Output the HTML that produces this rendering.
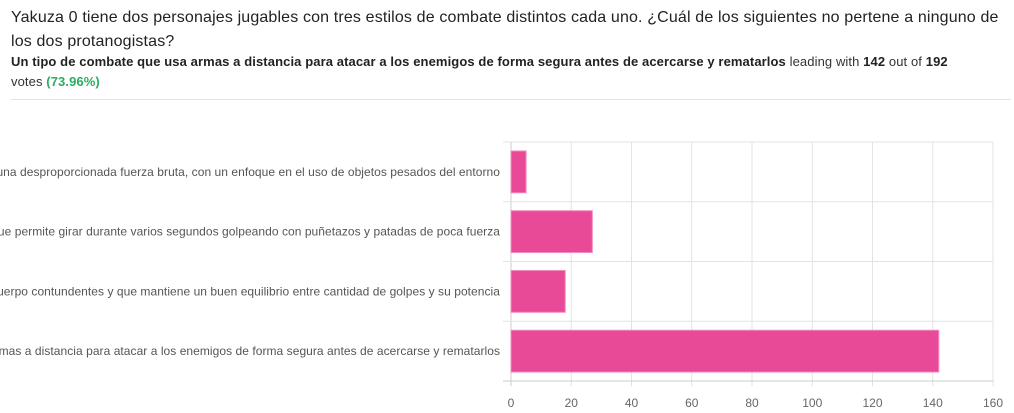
<!DOCTYPE html>
<html><head><meta charset="utf-8"><style>
body{margin:0;width:1014px;height:413px;overflow:hidden;background:#fff;font-family:"Liberation Sans",Arial,sans-serif;position:relative}
#title{position:absolute;left:11px;top:6px;width:990px;font-size:16px;line-height:24px;color:#222;letter-spacing:0.15px}
#sub{position:absolute;left:11px;top:52px;width:972px;font-size:13px;line-height:20px;color:#333;letter-spacing:0.1px}
#sep{position:absolute;left:11px;top:99px;width:1000px;height:1px;background:#e3e3e3}
svg{position:absolute;left:0;top:0}
</style></head><body>
<div id="title">Yakuza 0 tiene dos personajes jugables con tres estilos de combate distintos cada uno. ¿Cuál de los siguientes no pertene a ninguno de los dos protanogistas?</div>
<div id="sub"><b style="color:#222">Un tipo de combate que usa armas a distancia para atacar a los enemigos de forma segura antes de acercarse y rematarlos</b> leading with <b style="color:#222">142</b> out of <b style="color:#222">192</b> votes <b style="color:#27ae60">(73.96%)</b></div>
<div id="sep"></div>
<svg id="chart" width="1014" height="413"></svg>
<script>
const categories=["Un estilo con una desproporcionada fuerza bruta, con un enfoque en el uso de objetos pesados del entorno","Un estilo de combate que permite girar durante varios segundos golpeando con puñetazos y patadas de poca fuerza","Un estilo con golpes de cuerpo contundentes y que mantiene un buen equilibrio entre cantidad de golpes y su potencia","Un tipo de combate que usa armas a distancia para atacar a los enemigos de forma segura antes de acercarse y rematarlos"];
const values=[5,27,18,142];
const ticks=[0,20,40,60,80,100,120,140,160];
const NS="http://www.w3.org/2000/svg";
const svg=document.getElementById('chart');
const X0=511,X1=993,Y0=142,Y1=381,MAX=160;
const x=v=>X0+(X1-X0)*v/MAX;
const band=(Y1-Y0)/categories.length;
const y=i=>Y0+band*i;
function mk(t,a){const e=document.createElementNS(NS,t);for(const k in a)e.setAttribute(k,a[k]);svg.appendChild(e);return e;}
ticks.forEach(t=>{
 const g=mk('line',{x1:x(t),x2:x(t),y1:Y0,y2:Y1+5,stroke:t===0?'#ccc':'#e3e3e3','stroke-width':1});
 
 
 const tx=mk('text',{x:x(t),y:407,'text-anchor':'middle','font-size':12,fill:'#666'});
 tx.textContent=t;
 
 
});
for(let i=0;i<=categories.length;i++){
 const l=mk('line',{x1:X0-8,x2:X1,y1:y(i),y2:y(i),stroke:i===categories.length?'#ccc':'#e3e3e3','stroke-width':1});
 
 
}
categories.forEach((c,i)=>{
 const b=mk('rect',{x:X0,y:y(i)+band*0.15,width:x(values[i])-X0,height:band*0.7,fill:'#e84a97',stroke:'#f28cbf','stroke-width':1});
 
 
 const t=mk('text',{x:500,y:y(i)+band/2+4,'text-anchor':'end','font-size':12,fill:'#555','letter-spacing':'0.05'});
 t.textContent=c;
 
 
});
</script>
</body></html>
